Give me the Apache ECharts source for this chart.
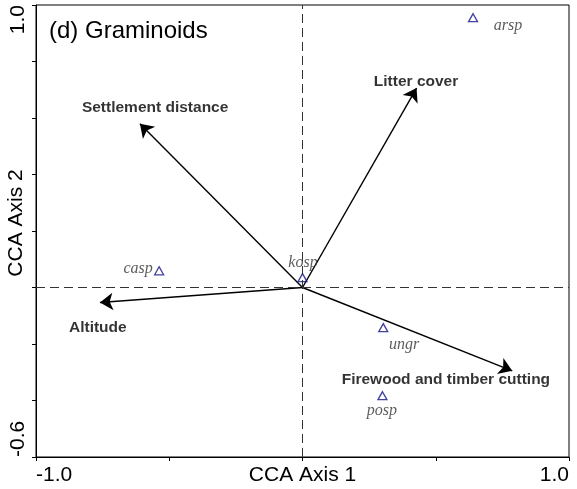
<!DOCTYPE html>
<html>
<head>
<meta charset="utf-8">
<script src="https://cdn.jsdelivr.net/npm/echarts@6/dist/echarts.min.js"></script>
<style>
html,body{margin:0;padding:0;background:#fff;}
#chart{width:577px;height:489px;}
</style>
</head>
<body>
<div id="chart"></div>
<script>
// Species scores
const speciesNames = ['arsp', 'casp', 'kosp', 'ungr', 'posp'];
const speciesX = [0.64, -0.538, 0.0, 0.303, 0.30];
const speciesY = [0.955, 0.059, 0.035, -0.142, -0.383];
// Species label anchors (data coords)
const speciesLabelX = [0.771, -0.617, 0.002, 0.381, 0.298];
const speciesLabelY = [0.927, 0.066, 0.087, -0.203, -0.437];

// Environmental variable arrows (tips)
const envNames = ['Settlement distance', 'Litter cover', 'Altitude', 'Firewood and timber cutting'];
const envX = [-0.61, 0.428, -0.76, 0.787];
const envY = [0.58, 0.706, -0.053, -0.295];
// Env label anchors (data coords)
const envLabelX = [-0.553, 0.426, -0.768, 0.538];
const envLabelY = [0.636, 0.728, -0.143, -0.327];

// Reference lines through the origin
const vLine = [[0, -0.6], [0, 1]];
const hLine = [[-1, 0], [1, 0]];

const xTickLabels = {'-1': '-1.0', '0': 'CCA Axis 1', '1': '1.0'};
const yTickLabels = {'-0.6': '-0.6', '1': '1.0'};

const chart = echarts.init(document.getElementById('chart'), null, {renderer: 'canvas'});

const fontSans = '"Liberation Sans", Arial, sans-serif';
const fontSerif = '"Liberation Serif", "Times New Roman", serif';

const dashed = {color: '#333', width: 1, type: [9, 5]};

const option = {
  animation: false,
  backgroundColor: '#fff',
  grid: {left: 36, right: 8, top: 5, bottom: 32, show: true, borderColor: '#000', borderWidth: 1, containLabel: false, outerBoundsMode: 'none'},
  xAxis: {
    type: 'value', min: -1, max: 1, interval: 0.5,
    axisLine: {onZero: false, lineStyle: {color: '#000', width: 1}},
    axisTick: {show: true, length: 4, lineStyle: {color: '#000'}},
    splitLine: {show: false},
    axisLabel: {
      color: '#000', fontFamily: fontSans, fontSize: 21, margin: 8,
      alignMinLabel: 'left', alignMaxLabel: 'right',
      formatter: function (v) {
        const k = String(Math.round(v * 10) / 10);
        return xTickLabels[k] !== undefined ? xTickLabels[k] : '';
      }
    }
  },
  yAxis: {
    type: 'value', min: -0.6, max: 1, interval: 0.2,
    axisLine: {onZero: false, lineStyle: {color: '#000', width: 1}},
    axisTick: {show: true, length: 4, lineStyle: {color: '#000'}},
    splitLine: {show: false},
    axisLabel: {
      color: '#000', fontFamily: fontSans, fontSize: 21, margin: 7, rotate: 90,
      alignMinLabel: 'left', alignMaxLabel: 'right',
      formatter: function (v) {
        const k = String(Math.round(v * 10) / 10);
        return yTickLabels[k] !== undefined ? yTickLabels[k] : '';
      }
    },
    name: 'CCA Axis 2', nameLocation: 'middle', nameGap: 9, nameMoveOverlap: false,
    nameTextStyle: {color: '#000', fontFamily: fontSans, fontSize: 21, padding: [0, 0, 0, 16]}
  },
  graphic: [{
    type: 'text', left: 49, top: 19,
    style: {text: '(d) Graminoids', fill: '#000', font: '24px "Liberation Sans", Arial, sans-serif'}
  }],
  series: [
    {
      type: 'line', silent: true, symbol: 'none', lineStyle: dashed, data: vLine
    },
    {
      type: 'line', silent: true, symbol: 'none', lineStyle: dashed, data: hLine
    },
    {
      type: 'lines', coordinateSystem: 'cartesian2d', silent: true,
      symbol: ['none', 'arrow'], symbolSize: [9, 13],
      lineStyle: {color: '#000', width: 1.4, opacity: 1},
      itemStyle: {color: '#000'},
      data: envNames.map((n, i) => ({name: n, coords: [[0, 0], [envX[i], envY[i]]]}))
    },
    {
      type: 'scatter', silent: true, symbolSize: 0,
      label: {show: true, position: 'inside', formatter: '{b}', color: '#000', fontFamily: fontSans, fontWeight: 'bold', fontSize: 15.5},
      data: envNames.map((n, i) => ({name: n, value: [envLabelX[i], envLabelY[i]]}))
    },
    {
      type: 'scatter', silent: true, symbol: 'triangle', symbolSize: [9, 8],
      itemStyle: {color: 'rgba(0,0,0,0)', borderColor: '#121288', borderWidth: 1.3},
      data: speciesNames.map((n, i) => ({name: n, value: [speciesX[i], speciesY[i]]}))
    },
    {
      type: 'scatter', silent: true, symbolSize: 0,
      label: {show: true, position: 'inside', formatter: '{b}', color: '#333', fontFamily: fontSerif, fontStyle: 'italic', fontSize: 16},
      data: speciesNames.map((n, i) => ({name: n, value: [speciesLabelX[i], speciesLabelY[i]]}))
    }
  ]
};
chart.setOption(option);
</script>
</body>
</html>
